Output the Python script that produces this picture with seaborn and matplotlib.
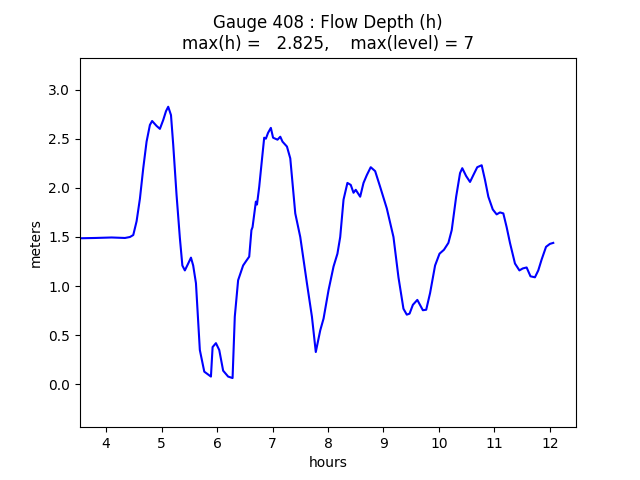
import numpy as np
import pandas as pd
import matplotlib
matplotlib.use("Agg")
import matplotlib.pyplot as plt
import seaborn as sns

# gauge 408 flow depth
hours = [3.53, 3.8, 4.1, 4.34, 4.43, 4.49, 4.55, 4.61, 4.67, 4.73, 4.79, 4.83,
         4.91, 4.97, 5.03, 5.08, 5.12, 5.17, 5.21, 5.27, 5.33, 5.375, 5.42, 5.48,
         5.53, 5.57, 5.62, 5.69, 5.77, 5.89, 5.92, 5.98,
         6.04, 6.11, 6.20, 6.28, 6.32, 6.38, 6.47, 6.53, 6.58, 6.62, 6.64, 6.70,
         6.72, 6.76, 6.81, 6.85, 6.88, 6.92, 6.97, 7.01, 7.09, 7.14, 7.18, 7.26,
         7.32, 7.41, 7.50, 7.62, 7.71, 7.78, 7.86, 7.92, 8.01, 8.10, 8.17, 8.22,
         8.28, 8.35, 8.41, 8.46, 8.50, 8.58, 8.64, 8.70, 8.77, 8.85, 8.94, 9.06,
         9.18, 9.27, 9.36, 9.42, 9.47, 9.53, 9.61, 9.71, 9.77, 9.84, 9.93, 10.01,
         10.09, 10.17, 10.23, 10.31, 10.38, 10.42, 10.49, 10.56, 10.62, 10.69,
         10.77, 10.83, 10.89, 10.97, 11.04, 11.10, 11.16, 11.22, 11.28, 11.37,
         11.45, 11.51, 11.58, 11.65, 11.73, 11.79, 11.85, 11.93, 12.00, 12.06]
depth = [1.487, 1.49, 1.495, 1.49, 1.50, 1.52, 1.66, 1.89, 2.20, 2.47, 2.64, 2.68,
         2.63, 2.60, 2.69, 2.78, 2.825, 2.74, 2.44, 1.93, 1.49, 1.21, 1.16, 1.23,
         1.29, 1.21, 1.03, 0.35, 0.13, 0.08, 0.38, 0.42,
         0.35, 0.14, 0.08, 0.065, 0.69, 1.06, 1.21, 1.26, 1.30, 1.57, 1.60, 1.86,
         1.83, 2.01, 2.29, 2.51, 2.50, 2.56, 2.61, 2.51, 2.49, 2.52, 2.47, 2.42,
         2.30, 1.74, 1.50, 1.03, 0.69, 0.33, 0.55, 0.67, 0.96, 1.20, 1.33, 1.50,
         1.88, 2.05, 2.03, 1.95, 1.98, 1.91, 2.05, 2.13, 2.21, 2.17, 2.01, 1.79,
         1.50, 1.09, 0.77, 0.71, 0.72, 0.81, 0.86, 0.755, 0.76, 0.93, 1.21, 1.33,
         1.37, 1.44, 1.57, 1.91, 2.15, 2.20, 2.12, 2.06, 2.13, 2.21,
         2.23, 2.08, 1.91, 1.78, 1.73, 1.75, 1.74, 1.60, 1.44, 1.23,
         1.16, 1.18, 1.19, 1.10, 1.09, 1.16, 1.27, 1.40, 1.43, 1.44]

df = pd.DataFrame({"hours": hours, "h": depth})
hmax = max(depth)

fig, ax = plt.subplots(figsize=(6.4, 4.8), dpi=100)
sns.lineplot(data=df, x="hours", y="h", color="b", sort=False, estimator=None,
             linewidth=1.5, ax=ax)

ax.set_xlim(3.53, 12.47)
ax.set_ylim(min(depth) - 0.5, hmax + 0.5)
ax.set_xlabel("hours")
ax.set_ylabel("meters")
ax.set_title("Gauge 408 : Flow Depth (h)\nmax(h) = %7.3f,    max(level) = %i" % (hmax, 7))

fig.savefig("out.png", dpi=100)
